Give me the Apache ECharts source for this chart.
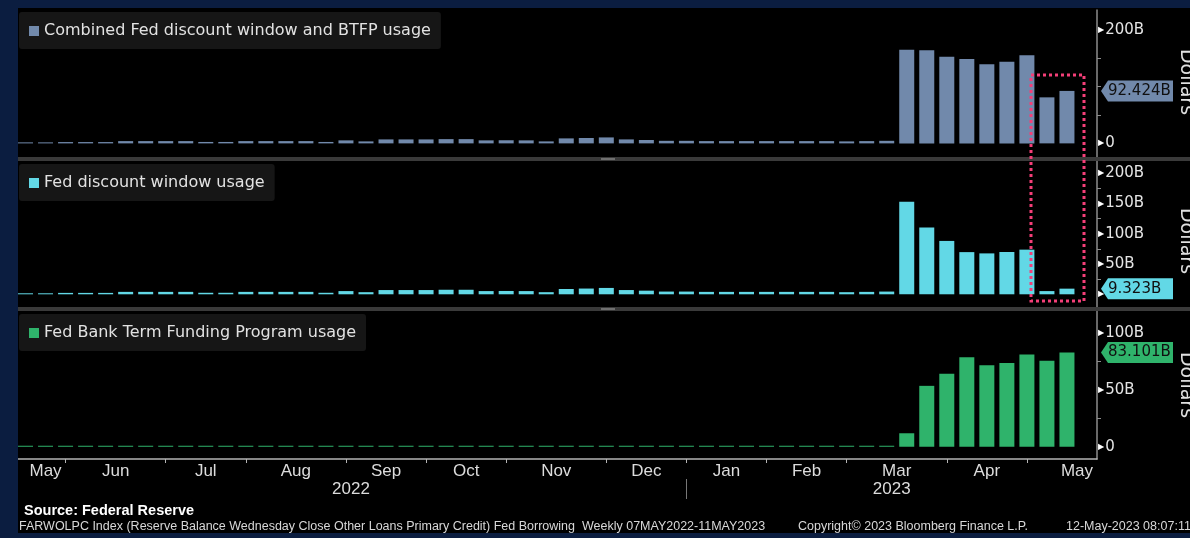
<!DOCTYPE html>
<html>
<head>
<meta charset="utf-8">
<script src="https://cdn.jsdelivr.net/npm/echarts@6/dist/echarts.min.js"></script>
<style>
html, body { margin: 0; padding: 0; background: #000; }
#chart { width: 1190px; height: 538px; }
</style>
</head>
<body>
<div id="chart"></div>
<script>
// weekly Wednesday readings, 11 May 2022 - 10 May 2023
const weeks = [
    '2022-05-11', '2022-05-18', '2022-05-25', '2022-06-01', '2022-06-08', '2022-06-15', '2022-06-22', '2022-06-29',
    '2022-07-06', '2022-07-13', '2022-07-20', '2022-07-27', '2022-08-03', '2022-08-10', '2022-08-17', '2022-08-24',
    '2022-08-31', '2022-09-07', '2022-09-14', '2022-09-21', '2022-09-28', '2022-10-05', '2022-10-12', '2022-10-19',
    '2022-10-26', '2022-11-02', '2022-11-09', '2022-11-16', '2022-11-23', '2022-11-30', '2022-12-07', '2022-12-14',
    '2022-12-21', '2022-12-28', '2023-01-04', '2023-01-11', '2023-01-18', '2023-01-25', '2023-02-01', '2023-02-08',
    '2023-02-15', '2023-02-22', '2023-03-01', '2023-03-08', '2023-03-15', '2023-03-22', '2023-03-29', '2023-04-05',
    '2023-04-12', '2023-04-19', '2023-04-26', '2023-05-03', '2023-05-10'
];

// billions of dollars
const combinedUsage = [
    1.5, 1.2, 2.3, 2.3, 2.3, 4.0, 4.0, 4.0, 4.0, 2.5, 2.5, 4.0, 4.0, 4.0, 4.0, 2.5,
    5.3, 3.5, 7.0, 7.0, 7.0, 7.5, 7.5, 5.3, 5.5, 5.3, 3.5, 8.8, 9.5, 10.5, 7.0, 6.0,
    4.5, 4.5, 4.0, 4.0, 4.0, 4.0, 4.0, 4.0, 4.0, 3.5, 4.0, 4.5,
    164.8, 163.9, 152.6, 148.7, 139.4, 143.8, 155.1, 81.1, 92.424
];
const discountWindow = [
    1.5, 1.2, 2.3, 2.3, 2.3, 4.0, 4.0, 4.0, 4.0, 2.5, 2.5, 4.0, 4.0, 4.0, 4.0, 2.5,
    5.3, 3.5, 7.0, 7.0, 7.0, 7.5, 7.5, 5.3, 5.5, 5.3, 3.5, 8.8, 9.5, 10.5, 7.0, 6.0,
    4.5, 4.5, 4.0, 4.0, 4.0, 4.0, 4.0, 4.0, 4.0, 3.5, 4.0, 4.5,
    152.9, 110.2, 88.2, 69.7, 67.6, 69.9, 73.8, 5.3, 9.323
];
const btfpUsage = [
    0, 0, 0, 0, 0, 0, 0, 0, 0, 0, 0, 0, 0, 0, 0, 0,
    0, 0, 0, 0, 0, 0, 0, 0, 0, 0, 0, 0, 0, 0, 0, 0,
    0, 0, 0, 0, 0, 0, 0, 0, 0, 0, 0, 0,
    11.9, 53.7, 64.4, 79.0, 71.8, 73.9, 81.3, 75.8, 83.101
];

const seriesNames = [
    'Combined Fed discount window and BTFP usage',
    'Fed discount window usage',
    'Fed Bank Term Funding Program usage'
];
const monthNames = ['Jan', 'Feb', 'Mar', 'Apr', 'May', 'Jun', 'Jul', 'Aug', 'Sep', 'Oct', 'Nov', 'Dec'];
const labelTicks = [[0, 200], [0, 50, 100, 150, 200], [0, 50, 100]];
const minorTicks = [[50, 100, 150], [25, 75, 125, 175], [25, 75]];

const panelData = [combinedUsage, discountWindow, btfpUsage];
const panelColors = ['#7189ab', '#62d8e6', '#2fb36b'];
const panelRange = [[-24, 235], [-21, 220.3], [-10.8, 119.7]];
const panelBox = [{ top: 10, height: 147 }, { top: 161, height: 146 }, { top: 311, height: 148 }];
const legendTop = [12, 164, 314];
const dollarsY = [82, 241, 385];

const FONT = 'DejaVu Sans';
const AXIS_FONT = 'Liberation Sans';

// month / year ticks from the dates
const dates = weeks.map(d => new Date(d + 'T00:00:00Z'));
const monthTicks = [];
const yearTicks = [];
for (let i = 0; i < dates.length - 1; i++) {
    if (dates[i].getUTCMonth() !== dates[i + 1].getUTCMonth()) monthTicks.push(i);
    if (dates[i].getUTCFullYear() !== dates[i + 1].getUTCFullYear()) yearTicks.push(i);
}
const xMin = -0.5;
const xMax = weeks.length + 0.5;

const monthBounds = [0].concat(monthTicks, [monthTicks[monthTicks.length - 1] + 5]);
const monthLabelPos = [];
const monthLabelText = [];
for (let k = 0; k < monthBounds.length - 1; k++) {
    monthLabelPos.push((monthBounds[k] + monthBounds[k + 1]) / 2);
    const first = k === 0 ? 0 : monthTicks[k - 1] + 1;
    monthLabelText.push(monthNames[dates[first].getUTCMonth()]);
}
const yearBounds = [xMin].concat(yearTicks, [xMax]);
const yearLabelPos = [];
const yearLabelText = [];
for (let k = 0; k < yearBounds.length - 1; k++) {
    yearLabelPos.push((yearBounds[k] + yearBounds[k + 1]) / 2);
    const first = k === 0 ? 0 : yearTicks[k - 1] + 1;
    yearLabelText.push(String(dates[first].getUTCFullYear()));
}

const findLabel = (pos, v, text) => {
    const i = pos.findIndex(p => Math.abs(p - v) < 1e-6);
    return i >= 0 ? text[i] : '';
};

const chart = echarts.init(document.getElementById('chart'));

const grid = panelBox.map(b => ({ left: 15.5, width: 1081.5, top: b.top, height: b.height }));

const xAxis = panelBox.map((b, k) => ({
    type: 'value',
    gridIndex: k,
    min: xMin,
    max: xMax,
    show: k === 2,
    splitLine: { show: false },
    axisLine: { show: true, onZero: false, lineStyle: { color: '#b4b4b4', width: 1.5 } },
    axisTick: { show: true, customValues: monthTicks, length: 4, lineStyle: { color: '#b4b4b4' } },
    axisLabel: {
        customValues: monthLabelPos,
        formatter: v => findLabel(monthLabelPos, v, monthLabelText),
        color: '#dcdcdc',
        fontFamily: AXIS_FONT,
        fontSize: 17,
        margin: 4
    }
}));
// year row under the months
xAxis.push({
    type: 'value',
    gridIndex: 2,
    min: xMin,
    max: xMax,
    position: 'bottom',
    offset: 20,
    splitLine: { show: false },
    axisLine: { show: false, onZero: false },
    axisTick: { show: true, customValues: yearTicks, length: 20, lineStyle: { color: '#777' } },
    axisLabel: {
        customValues: yearLabelPos,
        formatter: v => findLabel(yearLabelPos, v, yearLabelText),
        color: '#dcdcdc',
        fontFamily: AXIS_FONT,
        fontSize: 17,
        margin: 2
    }
});

const yAxis = panelBox.map((b, k) => ({
    type: 'value',
    gridIndex: k,
    position: 'right',
    min: panelRange[k][0],
    max: panelRange[k][1],
    splitLine: { show: false },
    axisLine: { show: true, onZero: false, lineStyle: { color: '#8c8c8c', width: 1.5 } },
    axisTick: { show: true, customValues: minorTicks[k], length: 4, lineStyle: { color: '#8c8c8c' } },
    axisLabel: {
        customValues: labelTicks[k],
        margin: 1,
        formatter: v => '{t|\u25B6}{v|' + (v === 0 ? '0' : v + 'B') + '}',
        rich: {
            t: { fontSize: 8, color: '#ffffff', fontFamily: FONT, padding: [0, 1, 0, 0] },
            v: { fontSize: 15, color: '#e4e4e4', fontFamily: FONT }
        }
    }
}));

const series = panelData.map((data, k) => ({
    name: seriesNames[k],
    type: 'bar',
    xAxisIndex: k,
    yAxisIndex: k,
    barWidth: 15,
    barMinHeight: 1,
    itemStyle: { color: panelColors[k] },
    data: data.map((v, i) => [i, v])
}));

const legend = seriesNames.map((name, k) => ({
    data: [name],
    left: 19,
    top: legendTop[k],
    backgroundColor: '#161616',
    borderRadius: 3,
    padding: [11, 10, 10, 10],
    icon: 'rect',
    itemWidth: 10,
    itemHeight: 10,
    selectedMode: false,
    textStyle: { color: '#e2e2e2', fontSize: 16, fontFamily: FONT }
}));

const FOOT_FONT = '12.5px "Liberation Sans"';
const baseGraphics = [
    // page frame
    { type: 'rect', shape: { x: 0, y: 0, width: 18, height: 538 }, style: { fill: '#0b1d40' }, z: 100 },
    { type: 'rect', shape: { x: 0, y: 0, width: 1190, height: 8 }, style: { fill: '#0b1d40' }, z: 100 },
    { type: 'rect', shape: { x: 0, y: 533, width: 1190, height: 5 }, style: { fill: '#0b1d40' }, z: 100 },
    // panel separators
    { type: 'rect', shape: { x: 18, y: 157, width: 1172, height: 4 }, style: { fill: '#3a3a3a' }, z: 100 },
    { type: 'rect', shape: { x: 601, y: 158, width: 14, height: 2 }, style: { fill: '#707070' }, z: 101 },
    { type: 'rect', shape: { x: 18, y: 307, width: 1172, height: 4 }, style: { fill: '#3a3a3a' }, z: 100 },
    { type: 'rect', shape: { x: 601, y: 308, width: 14, height: 2 }, style: { fill: '#707070' }, z: 101 },
    // highlight box around the last two weeks
    {
        type: 'rect', shape: { x: 1031, y: 75, width: 53, height: 226 },
        style: { fill: null, stroke: '#f43f78', lineWidth: 3, lineDash: [3, 3] }, z: 110
    },
    // footer
    {
        type: 'text', x: 24, y: 511, z: 100,
        style: { text: 'Source: Federal Reserve', fill: '#ffffff', font: 'bold 14.5px "Liberation Sans"', verticalAlign: 'middle' }
    },
    {
        type: 'text', x: 19, y: 527, z: 100,
        style: {
            text: 'FARWOLPC Index (Reserve Balance Wednesday Close Other Loans Primary Credit) Fed Borrowing  Weekly 07MAY2022-11MAY2023',
            fill: '#d8d8d8', font: FOOT_FONT, verticalAlign: 'middle'
        }
    },
    {
        type: 'text', x: 798, y: 527, z: 100,
        style: { text: 'Copyright\u00A9 2023 Bloomberg Finance L.P.', fill: '#d8d8d8', font: FOOT_FONT, verticalAlign: 'middle' }
    },
    {
        type: 'text', x: 1066, y: 527, z: 100,
        style: { text: '12-May-2023 08:07:11', fill: '#d8d8d8', font: FOOT_FONT, verticalAlign: 'middle' }
    }
];
dollarsY.forEach(y => {
    baseGraphics.push({
        type: 'text', x: 1186, y: y, rotation: -Math.PI / 2, z: 100,
        style: { text: 'Dollars', fill: '#e0e0e0', font: '19px "DejaVu Sans"', align: 'center', verticalAlign: 'middle' }
    });
});

chart.setOption({
    backgroundColor: '#000000',
    animation: false,
    grid: grid,
    xAxis: xAxis,
    yAxis: yAxis,
    legend: legend,
    series: series,
    graphic: baseGraphics
});

// last-value tags on the right axis
const tags = panelData.map((data, k) => {
    const v = data[data.length - 1];
    const y = chart.convertToPixel({ yAxisIndex: k }, v);
    const x0 = 1101;
    return {
        type: 'group', z: 120,
        children: [
            {
                type: 'polygon', z: 120,
                shape: { points: [[x0, y], [x0 + 7, y - 10.5], [x0 + 72, y - 10.5], [x0 + 72, y + 10.5], [x0 + 7, y + 10.5]] },
                style: { fill: panelColors[k] }
            },
            {
                type: 'text', z: 121, x: x0 + 7, y: y,
                style: { text: v.toFixed(3) + 'B', fill: '#101010', font: '15px "DejaVu Sans"', verticalAlign: 'middle' }
            }
        ]
    };
});
chart.setOption({ graphic: baseGraphics.concat(tags) });
</script>
</body>
</html>
